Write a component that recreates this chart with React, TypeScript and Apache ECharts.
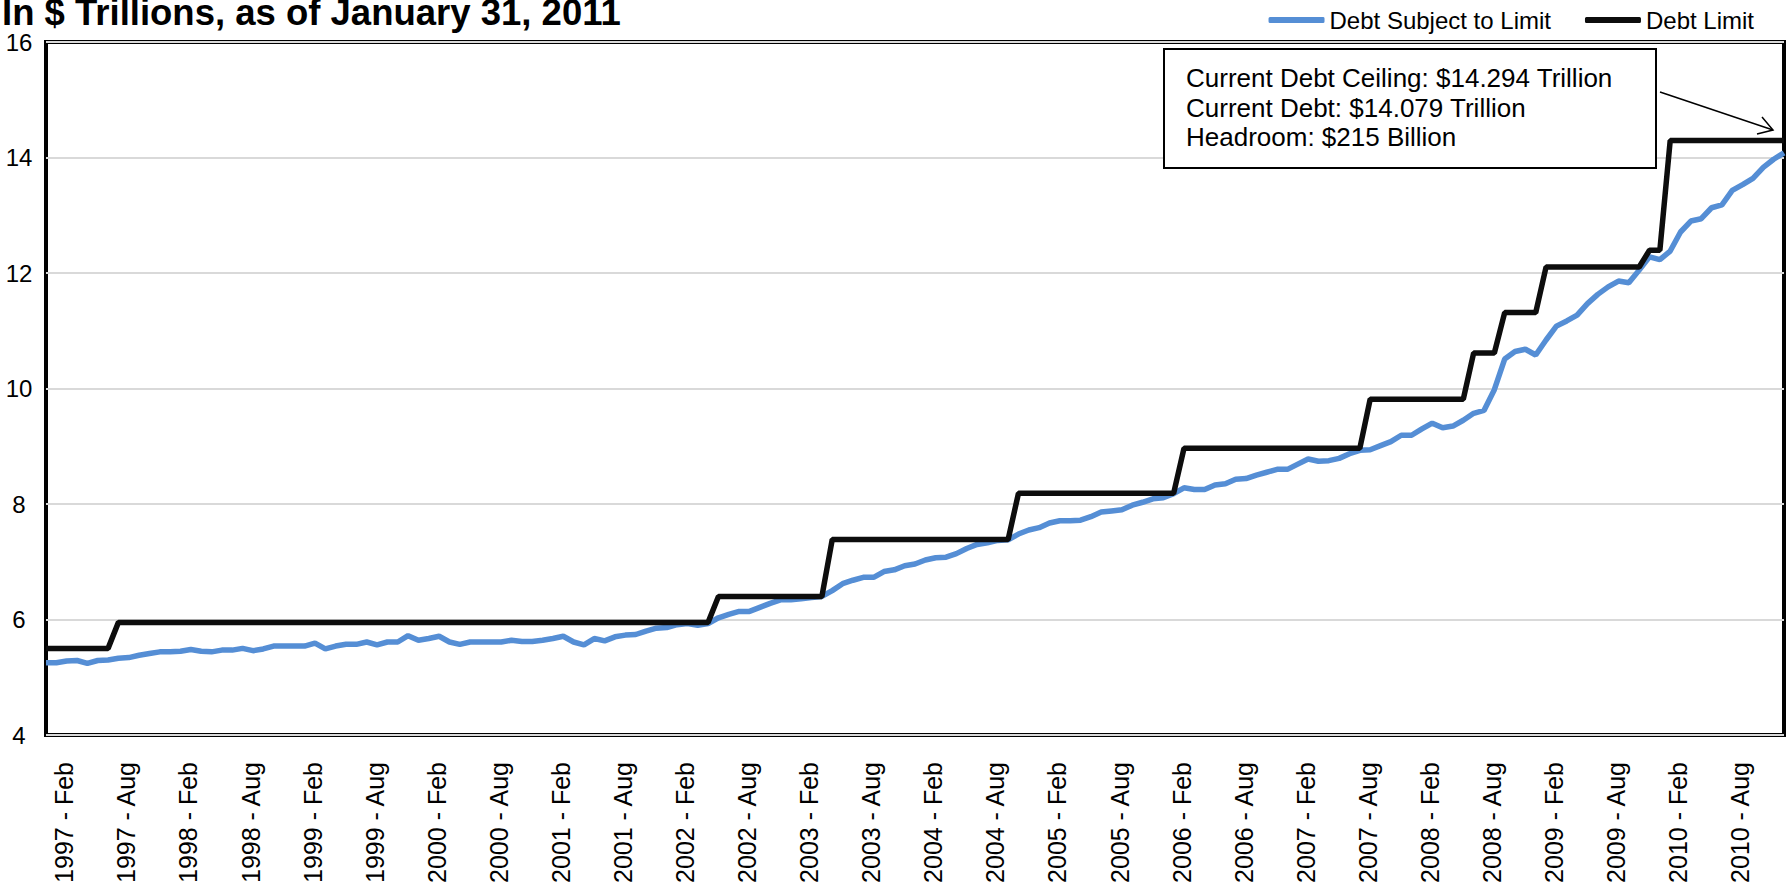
import React, { useEffect, useRef } from "react";
import * as echarts from "echarts";

const MONTHS = ["Jan", "Feb", "Mar", "Apr", "May", "Jun", "Jul", "Aug", "Sep", "Oct", "Nov", "Dec"];
const START_YEAR = 1997;
const N_MONTHS = 169; // Jan 1997 .. Jan 2011

const categories: string[] = [];
for (let k = 0; k < N_MONTHS; k++) {
  categories.push(`${START_YEAR + Math.floor(k / 12)} - ${MONTHS[k % 12]}`);
}

const yTicks = { min: 4, max: 16, interval: 2 };

// Debt subject to limit, $ trillions, Jan 1997 .. Jan 2011
const debtSubjectToLimit = [
  5.25, 5.25, 5.28, 5.29, 5.24, 5.29, 5.30, 5.33, 5.34, 5.38, 5.41, 5.44,
  5.44, 5.45, 5.48, 5.45, 5.44, 5.47, 5.47, 5.50, 5.46, 5.49, 5.54, 5.54,
  5.54, 5.54, 5.59, 5.49, 5.54, 5.57, 5.57, 5.61, 5.56, 5.61, 5.61, 5.72,
  5.64, 5.67, 5.71, 5.61, 5.57, 5.61, 5.61, 5.61, 5.61, 5.64, 5.62, 5.62,
  5.64, 5.67, 5.71, 5.61, 5.56, 5.67, 5.63, 5.70, 5.73, 5.74, 5.80, 5.85,
  5.86, 5.91, 5.93, 5.90, 5.93, 6.03, 6.09, 6.14, 6.14, 6.21, 6.28, 6.34,
  6.34, 6.36, 6.38, 6.40, 6.50, 6.62, 6.68, 6.73, 6.73, 6.83, 6.86, 6.93,
  6.96, 7.03, 7.07, 7.08, 7.14, 7.23, 7.30, 7.33, 7.37, 7.38, 7.48, 7.55,
  7.59, 7.67, 7.71, 7.71, 7.72, 7.78, 7.86, 7.88, 7.90, 7.98, 8.03, 8.09,
  8.11, 8.18, 8.28, 8.25, 8.25, 8.33, 8.35, 8.43, 8.44, 8.50, 8.55, 8.60,
  8.60, 8.69, 8.78, 8.74, 8.75, 8.79, 8.87, 8.93, 8.94, 9.01, 9.08, 9.19,
  9.19, 9.30, 9.40, 9.32, 9.35, 9.45, 9.57, 9.62, 9.98, 10.51, 10.64, 10.68,
  10.58, 10.84, 11.08, 11.17, 11.27, 11.47, 11.63, 11.76, 11.86, 11.83, 12.05, 12.28,
  12.23, 12.38, 12.71, 12.90, 12.94, 13.13, 13.18, 13.43, 13.53, 13.64, 13.83, 13.97,
  14.08,
];

// Statutory debt limit, $ trillions, Jan 1997 .. Jan 2011
const debtLimit = [
  5.5, 5.5, 5.5, 5.5, 5.5, 5.5, 5.5, 5.95, 5.95, 5.95, 5.95, 5.95,
  5.95, 5.95, 5.95, 5.95, 5.95, 5.95, 5.95, 5.95, 5.95, 5.95, 5.95, 5.95,
  5.95, 5.95, 5.95, 5.95, 5.95, 5.95, 5.95, 5.95, 5.95, 5.95, 5.95, 5.95,
  5.95, 5.95, 5.95, 5.95, 5.95, 5.95, 5.95, 5.95, 5.95, 5.95, 5.95, 5.95,
  5.95, 5.95, 5.95, 5.95, 5.95, 5.95, 5.95, 5.95, 5.95, 5.95, 5.95, 5.95,
  5.95, 5.95, 5.95, 5.95, 5.95, 6.4, 6.4, 6.4, 6.4, 6.4, 6.4, 6.4,
  6.4, 6.4, 6.4, 6.4, 7.384, 7.384, 7.384, 7.384, 7.384, 7.384, 7.384, 7.384,
  7.384, 7.384, 7.384, 7.384, 7.384, 7.384, 7.384, 7.384, 7.384, 7.384, 8.184, 8.184,
  8.184, 8.184, 8.184, 8.184, 8.184, 8.184, 8.184, 8.184, 8.184, 8.184, 8.184, 8.184,
  8.184, 8.184, 8.965, 8.965, 8.965, 8.965, 8.965, 8.965, 8.965, 8.965, 8.965, 8.965,
  8.965, 8.965, 8.965, 8.965, 8.965, 8.965, 8.965, 8.965, 9.815, 9.815, 9.815, 9.815,
  9.815, 9.815, 9.815, 9.815, 9.815, 9.815, 10.615, 10.615, 10.615, 11.315, 11.315, 11.315,
  11.315, 12.104, 12.104, 12.104, 12.104, 12.104, 12.104, 12.104, 12.104, 12.104, 12.104, 12.394,
  12.394, 14.294, 14.294, 14.294, 14.294, 14.294, 14.294, 14.294, 14.294, 14.294, 14.294, 14.294,
  14.294,
];

const seriesNames = ["Debt Subject to Limit", "Debt Limit"];
const titleText = "In $ Trillions, as of January 31, 2011";
const noteLines = [
  "Current Debt Ceiling: $14.294 Trillion",
  "Current Debt: $14.079 Trillion",
  "Headroom: $215 Billion",
];

const FONT = "'Liberation Sans', Arial, sans-serif";

export default function App() {
  const ref = useRef<HTMLDivElement>(null);

  useEffect(() => {
    if (!ref.current) return;
    const chart = echarts.init(ref.current, null, { renderer: "svg" });

    const tip = [1773, 130];
    const tail = [1660, 92];

    chart.setOption({
      animation: false,
      backgroundColor: "#ffffff",
      textStyle: { fontFamily: FONT, color: "#000" },
      grid: {
        left: 46,
        right: 7,
        top: 42,
        bottom: 160,
        show: true,
        borderColor: "#000",
        borderWidth: 4,
        backgroundColor: "transparent",
      },
      legend: {
        data: seriesNames,
        right: 32,
        top: 3,
        icon: "roundRect",
        itemWidth: 56,
        itemHeight: 6,
        itemGap: 34,
        textStyle: { fontSize: 24, color: "#000", fontFamily: FONT },
      },
      xAxis: {
        type: "category",
        data: categories,
        boundaryGap: false,
        axisLine: { show: false },
        axisTick: { show: false },
        splitLine: { show: false },
        axisLabel: {
          rotate: 90,
          margin: 27,
          fontSize: 25,
          color: "#000",
          fontFamily: FONT,
          verticalAlign: "top",
          lineHeight: 16,
          interval: (index: number) => index % 6 === 1,
        },
      },
      yAxis: {
        type: "value",
        min: yTicks.min,
        max: yTicks.max,
        interval: yTicks.interval,
        axisLine: { show: false },
        axisTick: { show: false },
        splitLine: { lineStyle: { color: "#d9d9d9", width: 2 } },
        axisLabel: {
          fontSize: 24,
          color: "#000",
          align: "center",
          margin: 27,
          fontFamily: FONT,
        },
      },
      series: [
        {
          name: seriesNames[0],
          type: "line",
          data: debtSubjectToLimit,
          symbol: "none",
          color: "#558ed5",
          lineStyle: { color: "#558ed5", width: 5.5 },
          emphasis: { disabled: true },
          z: 2,
        },
        {
          name: seriesNames[1],
          type: "line",
          data: debtLimit,
          symbol: "none",
          color: "#0d0d0d",
          lineStyle: { color: "#0d0d0d", width: 5.5 },
          emphasis: { disabled: true },
          z: 3,
        },
      ],
      graphic: [
        {
          type: "text",
          x: 2,
          y: 12,
          style: {
            text: titleText,
            fontSize: 36.5,
            fontWeight: "bold",
            fontFamily: FONT,
            fill: "#000",
            verticalAlign: "middle",
            lineHeight: 20,
          },
          z: 10,
        },
        {
          type: "rect",
          shape: { x: 1164, y: 49, width: 492, height: 119 },
          style: { fill: "#fff", stroke: "#000", lineWidth: 2 },
          z: 10,
        },
        ...noteLines.map((t, i) => ({
          type: "text",
          x: 1186,
          y: 78 + i * 29.5,
          style: {
            text: t,
            fontSize: 26,
            fontFamily: FONT,
            fill: "#000",
            verticalAlign: "middle",
          },
          z: 11,
        })),
        {
          type: "line",
          shape: { x1: tail[0], y1: tail[1], x2: tip[0], y2: tip[1] },
          style: { stroke: "#000", lineWidth: 1.5 },
          z: 11,
        },
        {
          type: "polyline",
          shape: { points: [[1762, 117], tip, [1757, 134]] },
          style: { stroke: "#000", lineWidth: 1.5, fill: "none" },
          z: 11,
        },
      ],
    });

    return () => chart.dispose();
  }, []);

  return (
    <div
      ref={ref}
      style={{ position: "fixed", left: 0, top: 0, width: 1791, height: 895 }}
    />
  );
}
